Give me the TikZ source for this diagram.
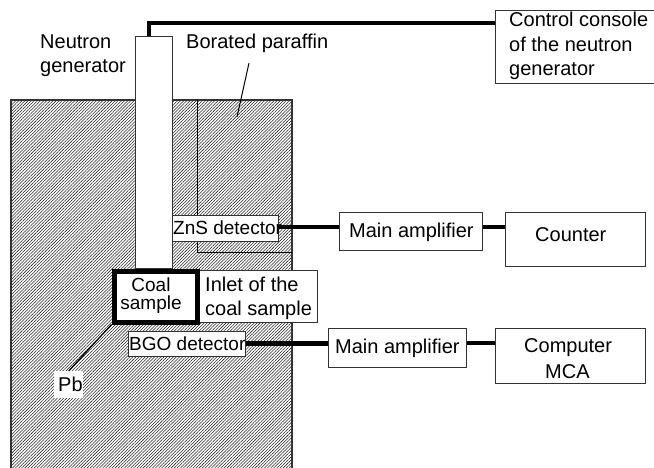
\documentclass[tikz,border=0pt]{standalone}
\usepackage{fontspec}
\setmainfont{Liberation Sans}
\usetikzlibrary{patterns.meta}
\definecolor{edge}{gray}{0.2}
\tikzset{x=1pt,y=-1pt,
 hatch/.style={pattern={Lines[angle=45,distance=2.2pt,line width=0.55pt]},pattern color=black!85},
 thin box/.style={draw=edge,line width=1.3pt,fill=white,inner sep=0pt,anchor=north west},
 wire/.style={line width=4pt,black},
 wirethin/.style={line width=3.5pt,black},
 lbl/.style={font=\fontsize{20}{24}\selectfont,inner sep=0pt,anchor=base west},
 lblsmall/.style={font=\fontsize{19}{24}\selectfont,inner sep=0pt,anchor=base west},
}
\begin{document}
\begin{tikzpicture}
\useasboundingbox (0,0) rectangle (654,468);
% shield
\fill[hatch] (11,100) rectangle (292,468);
\draw[edge,line width=1.2pt] (11,468) -- (11,100) -- (292,100) -- (292,468);
\draw[black,line width=1pt] (197,100) -- (197,253) -- (292,253);
% tube
\node[thin box,minimum width=37pt,minimum height=232pt] (tube) at (135,36) {};
\draw[wire] (tube.north west) ++(14,0) -- ++(0,-13) -| +(347,0) coordinate (wireend);
% right-side boxes
\node[thin box,minimum width=165pt,minimum height=73pt] (ctl) at (495,10) {};
\node[thin box,minimum width=143pt,minimum height=38pt] (amp1) at (339,212) {};
\node[thin box,minimum width=140pt,minimum height=54pt] (cnt) at (505,212) {};
\node[thin box,minimum width=138pt,minimum height=39pt] (amp2) at (328,328) {};
\node[thin box,minimum width=150pt,minimum height=55pt] (cmp) at (495,328) {};
% detector boxes
\node[thin box,minimum width=106pt,minimum height=26pt] (zns) at (172,215) {};
\node[thin box,minimum width=117pt,minimum height=25pt] (bgo) at (128,331) {};
% wires
\draw[wire] (zns.north east |- 0,227) -- (amp1.west |- 0,227);
\draw[wirethin] (amp1.east |- 0,227) -- (cnt.west |- 0,227);
\draw[wire,line width=5pt] (bgo.east |- 0,343) -- (amp2.west |- 0,343);
\draw[wirethin] (amp2.east |- 0,343) -- (cmp.west |- 0,343);
% other boxes
\node[thin box,minimum width=120pt,minimum height=52pt] (inlet) at (197,270) {};
\node[draw=black,line width=5pt,fill=white,minimum width=83pt,minimum height=51pt,inner sep=0pt,anchor=north west] (coal) at (111.5,268.5) {};
\node[fill=white,minimum width=29pt,minimum height=27pt,inner sep=0pt,anchor=north west] (pb) at (54,371) {};
\draw[black,line width=1.2pt] (coal.south west) -- (pb.north);
% texts
\node[lblsmall] (znslbl) at (173,234) {ZnS detector};
\node[lbl] (inlet1) at (205,291) {Inlet of the};
\node[lbl] (inlet2) at (205,316) {coal sample};
\node[font=\fontsize{19}{18}\selectfont,inner sep=0pt,align=center,anchor=center] (coallbl) at (151,296) {Coal\\sample};
\node[lblsmall] (bgolbl) at (129,350) {BGO detector};
\node[lbl] (pblbl) at (58,391) {Pb};
\node[lbl] (ng1) at (40,49) {Neutron};
\node[lbl] (ng2) at (40,73) {generator};
\node[lbl] (bpl) at (186,49) {Borated paraffin};
\coordinate (bptop) at (249,63);
\coordinate (bptip) at (237,117);
\draw[black,line width=1pt] (bptop) -- (bptip);
\node[lbl] (c1) at (509,27) {Control console};
\node[lbl] (c2) at (509,52) {of the neutron};
\node[lbl] (c3) at (509,76) {generator};
\node[lbl] (a1) at (349,237) {Main amplifier};
\node[lbl] (cl) at (535,242) {Counter};
\node[lbl] (a2) at (335,353) {Main amplifier};
\node[lbl] (m1) at (524,352) {Computer};
\node[lbl] (m2) at (545,378) {MCA};
\end{tikzpicture}
\end{document}
